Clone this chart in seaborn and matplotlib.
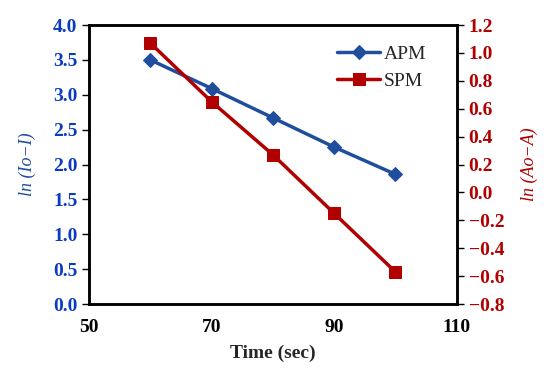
import numpy as np
import pandas as pd
import seaborn as sns
import matplotlib.pyplot as plt

# values
time_sec = [60, 70, 80, 90, 100]
apm_vals = [3.50, 3.09, 2.67, 2.25, 1.86]
spm_vals = [1.07, 0.65, 0.27, -0.15, -0.57]

blue = '#1f4e9e'
red = '#b00000'
blue_txt = '#0a3cc0'

sns.set_style('white')
plt.rcParams['font.family'] = ['Liberation Serif', 'DejaVu Serif']

df = pd.DataFrame({'time': time_sec, 'APM': apm_vals, 'SPM': spm_vals})

fig = plt.figure(figsize=(5.47, 3.74), dpi=100)
ax = fig.add_axes([0.163, 0.187, 0.672, 0.746])
ax2 = ax.twinx()

sns.lineplot(data=df, x='time', y='APM', ax=ax, color=blue, marker='D',
             markersize=7, linewidth=2.5, markeredgecolor=blue, label='APM', legend=False)
sns.lineplot(data=df, x='time', y='SPM', ax=ax2, color=red, marker='s',
             markersize=9, linewidth=2.5, markeredgecolor=red, label='SPM', legend=False)

ax.set_xlim(50, 110)
ax.set_xticks([50, 70, 90, 110])
ax.set_ylim(0, 4)
ax.set_yticks(np.arange(0, 4.01, 0.5))
ax.set_yticklabels([f'{v:.1f}' for v in np.arange(0, 4.01, 0.5)])
ax2.set_ylim(-0.8, 1.2)
ax2.set_yticks(np.arange(-0.8, 1.21, 0.2))
ax2.set_yticklabels([f'{v:.1f}'.replace('-', '\u2212') if abs(v) > 1e-9 else '0.0'
                     for v in np.arange(-0.8, 1.21, 0.2)])

for a in (ax, ax2):
    for s in a.spines.values():
        s.set_color('black')
        s.set_linewidth(1.8)

ax.tick_params(axis='x', direction='out', length=5, width=1, colors='black',
               labelsize=14, pad=6)
ax.tick_params(axis='y', direction='out', length=5, width=1, color='black',
               labelcolor=blue_txt, labelsize=14)
ax2.tick_params(axis='y', direction='out', length=5, width=1, color='black',
                labelcolor=red, labelsize=14)
for lbl in ax.get_xticklabels() + ax.get_yticklabels() + ax2.get_yticklabels():
    lbl.set_fontweight('bold')

ax.set_xlabel('Time (sec)', fontsize=14, fontweight='bold', labelpad=6)
ax.set_ylabel('ln (Io\u2212I)', fontsize=13, style='italic', color=blue, labelpad=12)
ax2.set_ylabel('ln (Ao\u2212A)', fontsize=13, style='italic', color=red, labelpad=12)

h1, l1 = ax.get_legend_handles_labels()
h2, l2 = ax2.get_legend_handles_labels()
ax2.legend(h1 + h2, l1 + l2, loc='upper right', frameon=False, fontsize=14,
           handlelength=2.2, handletextpad=0.2, labelspacing=0.5,
           bbox_to_anchor=(0.965, 0.99))

fig.savefig('out.png', dpi=100)
